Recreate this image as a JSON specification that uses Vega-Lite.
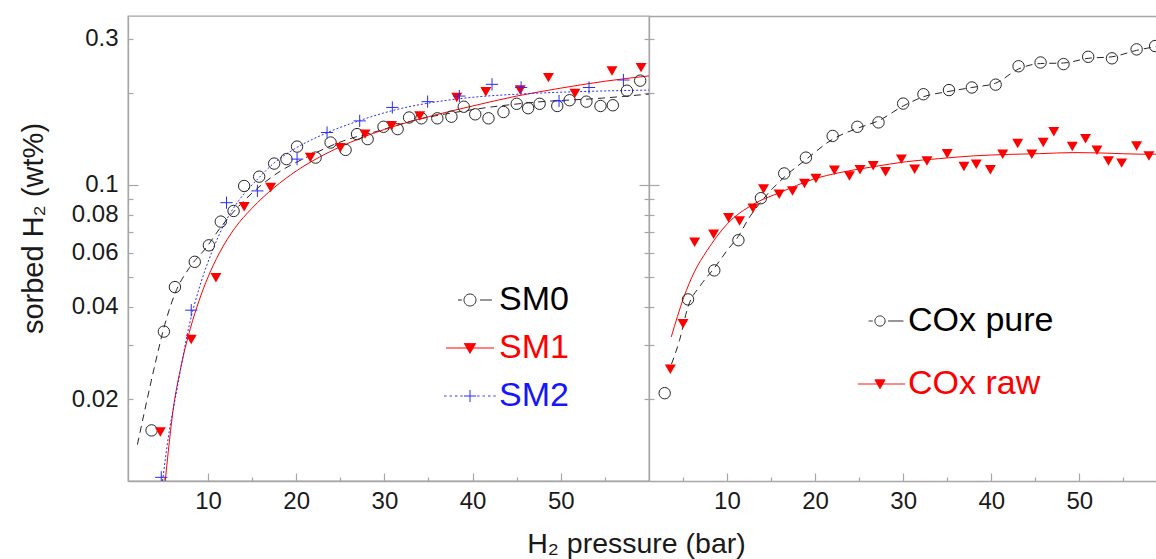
{
  "$schema": "https://vega.github.io/schema/vega-lite/v6.json",
  "background": "white",
  "padding": {"left": 18, "top": 15, "right": 0, "bottom": 0},
  "spacing": 0,
  "bounds": "flush",
  "config": {
    "font": "Liberation Sans",
    "view": {"stroke": "#a6a6a6", "strokeWidth": 1.3},
    "axis": {
      "grid": false,
      "domainColor": "#a6a6a6",
      "domainWidth": 1.3,
      "tickColor": "#a6a6a6",
      "tickWidth": 1.2,
      "labelColor": "#1a1a1a",
      "titleColor": "#1a1a1a",
      "labelFont": "Liberation Sans",
      "titleFont": "Liberation Sans",
      "titleFontWeight": "normal"
    },
    "legend": {"labelFont": "Liberation Sans"}
  },
  "datasets": {
    "pts_sm": [
      {"s": "SM0", "p": 3.6, "w": 0.0158}, {"s": "SM0", "p": 5.0, "w": 0.0332}, {"s": "SM0", "p": 6.25, "w": 0.0464},
      {"s": "SM0", "p": 8.5, "w": 0.0561}, {"s": "SM0", "p": 10.1, "w": 0.0635}, {"s": "SM0", "p": 11.45, "w": 0.0759},
      {"s": "SM0", "p": 12.9, "w": 0.0822}, {"s": "SM0", "p": 14.1, "w": 0.0992}, {"s": "SM0", "p": 15.8, "w": 0.1064},
      {"s": "SM0", "p": 17.5, "w": 0.1174}, {"s": "SM0", "p": 18.9, "w": 0.1214}, {"s": "SM0", "p": 20.1, "w": 0.1334},
      {"s": "SM0", "p": 22.2, "w": 0.1228}, {"s": "SM0", "p": 23.9, "w": 0.1375}, {"s": "SM0", "p": 25.6, "w": 0.1301},
      {"s": "SM0", "p": 26.9, "w": 0.1465}, {"s": "SM0", "p": 28.1, "w": 0.1411}, {"s": "SM0", "p": 29.9, "w": 0.1548},
      {"s": "SM0", "p": 31.5, "w": 0.1521}, {"s": "SM0", "p": 32.8, "w": 0.166}, {"s": "SM0", "p": 34.2, "w": 0.165},
      {"s": "SM0", "p": 36.0, "w": 0.165}, {"s": "SM0", "p": 37.6, "w": 0.167}, {"s": "SM0", "p": 39.0, "w": 0.18},
      {"s": "SM0", "p": 40.3, "w": 0.17}, {"s": "SM0", "p": 41.8, "w": 0.165}, {"s": "SM0", "p": 43.5, "w": 0.173},
      {"s": "SM0", "p": 45.0, "w": 0.184}, {"s": "SM0", "p": 46.3, "w": 0.178}, {"s": "SM0", "p": 47.6, "w": 0.184},
      {"s": "SM0", "p": 49.6, "w": 0.181}, {"s": "SM0", "p": 51.0, "w": 0.189}, {"s": "SM0", "p": 52.9, "w": 0.187},
      {"s": "SM0", "p": 54.5, "w": 0.181}, {"s": "SM0", "p": 55.9, "w": 0.182}, {"s": "SM0", "p": 57.5, "w": 0.203},
      {"s": "SM0", "p": 59.0, "w": 0.219},
      {"s": "SM1", "p": 4.6, "w": 0.0156}, {"s": "SM1", "p": 8.1, "w": 0.0313}, {"s": "SM1", "p": 10.9, "w": 0.0498},
      {"s": "SM1", "p": 14.1, "w": 0.0848}, {"s": "SM1", "p": 17.1, "w": 0.098}, {"s": "SM1", "p": 21.6, "w": 0.1228},
      {"s": "SM1", "p": 25.0, "w": 0.1323}, {"s": "SM1", "p": 27.8, "w": 0.1465}, {"s": "SM1", "p": 30.8, "w": 0.156},
      {"s": "SM1", "p": 34.0, "w": 0.168}, {"s": "SM1", "p": 38.2, "w": 0.1928}, {"s": "SM1", "p": 41.5, "w": 0.2016},
      {"s": "SM1", "p": 45.4, "w": 0.204}, {"s": "SM1", "p": 48.6, "w": 0.224}, {"s": "SM1", "p": 51.6, "w": 0.199},
      {"s": "SM1", "p": 55.8, "w": 0.2354}, {"s": "SM1", "p": 59.1, "w": 0.2415},
      {"s": "SM2", "p": 4.7, "w": 0.0111}, {"s": "SM2", "p": 8.1, "w": 0.039}, {"s": "SM2", "p": 12.1, "w": 0.0875},
      {"s": "SM2", "p": 15.6, "w": 0.0956}, {"s": "SM2", "p": 20.1, "w": 0.1214}, {"s": "SM2", "p": 23.5, "w": 0.1483},
      {"s": "SM2", "p": 27.2, "w": 0.1618}, {"s": "SM2", "p": 30.9, "w": 0.179}, {"s": "SM2", "p": 34.9, "w": 0.187},
      {"s": "SM2", "p": 38.5, "w": 0.195}, {"s": "SM2", "p": 42.2, "w": 0.213}, {"s": "SM2", "p": 45.5, "w": 0.208},
      {"s": "SM2", "p": 49.8, "w": 0.188}, {"s": "SM2", "p": 53.2, "w": 0.208}, {"s": "SM2", "p": 57.1, "w": 0.22}
    ],
    "fit_sm": [
      {"s": "SM0", "p": 2.0, "w": 0.0142}, {"s": "SM0", "p": 2.8, "w": 0.0182}, {"s": "SM0", "p": 4.0, "w": 0.026},
      {"s": "SM0", "p": 5.1, "w": 0.035}, {"s": "SM0", "p": 6.3, "w": 0.0445}, {"s": "SM0", "p": 7.9, "w": 0.0537},
      {"s": "SM0", "p": 9.8, "w": 0.0624}, {"s": "SM0", "p": 11.4, "w": 0.0725}, {"s": "SM0", "p": 13.7, "w": 0.0865},
      {"s": "SM0", "p": 17.6, "w": 0.108}, {"s": "SM0", "p": 21.5, "w": 0.1244}, {"s": "SM0", "p": 25.4, "w": 0.1394},
      {"s": "SM0", "p": 29.3, "w": 0.15}, {"s": "SM0", "p": 33.2, "w": 0.162}, {"s": "SM0", "p": 39.1, "w": 0.1745},
      {"s": "SM0", "p": 46.9, "w": 0.186}, {"s": "SM0", "p": 54.7, "w": 0.192}, {"s": "SM0", "p": 60.0, "w": 0.198},
      {"s": "SM1", "p": 5.15, "w": 0.0108}, {"s": "SM1", "p": 5.5, "w": 0.0135}, {"s": "SM1", "p": 6.0, "w": 0.018},
      {"s": "SM1", "p": 7.0, "w": 0.026}, {"s": "SM1", "p": 8.0, "w": 0.034}, {"s": "SM1", "p": 9.0, "w": 0.042},
      {"s": "SM1", "p": 10.0, "w": 0.05}, {"s": "SM1", "p": 11.3, "w": 0.06}, {"s": "SM1", "p": 13.0, "w": 0.072},
      {"s": "SM1", "p": 15.0, "w": 0.084}, {"s": "SM1", "p": 17.5, "w": 0.098}, {"s": "SM1", "p": 20.0, "w": 0.111},
      {"s": "SM1", "p": 23.5, "w": 0.127}, {"s": "SM1", "p": 27.0, "w": 0.141}, {"s": "SM1", "p": 31.0, "w": 0.155},
      {"s": "SM1", "p": 35.0, "w": 0.167}, {"s": "SM1", "p": 40.0, "w": 0.181}, {"s": "SM1", "p": 45.0, "w": 0.195},
      {"s": "SM1", "p": 50.0, "w": 0.207}, {"s": "SM1", "p": 55.0, "w": 0.218}, {"s": "SM1", "p": 60.0, "w": 0.227},
      {"s": "SM2", "p": 4.85, "w": 0.0108}, {"s": "SM2", "p": 5.5, "w": 0.015}, {"s": "SM2", "p": 6.3, "w": 0.0202},
      {"s": "SM2", "p": 7.0, "w": 0.026}, {"s": "SM2", "p": 7.9, "w": 0.0351}, {"s": "SM2", "p": 9.0, "w": 0.046},
      {"s": "SM2", "p": 10.6, "w": 0.062}, {"s": "SM2", "p": 12.0, "w": 0.076}, {"s": "SM2", "p": 13.5, "w": 0.089},
      {"s": "SM2", "p": 15.7, "w": 0.105}, {"s": "SM2", "p": 17.5, "w": 0.118}, {"s": "SM2", "p": 19.6, "w": 0.13},
      {"s": "SM2", "p": 23.5, "w": 0.148}, {"s": "SM2", "p": 27.4, "w": 0.163}, {"s": "SM2", "p": 31.3, "w": 0.176},
      {"s": "SM2", "p": 35.0, "w": 0.185}, {"s": "SM2", "p": 39.1, "w": 0.192}, {"s": "SM2", "p": 46.9, "w": 0.199},
      {"s": "SM2", "p": 53.0, "w": 0.202}, {"s": "SM2", "p": 60.0, "w": 0.204}
    ],
    "pts_cox": [
      {"s": "COx pure", "p": 2.93, "w": 0.0209}, {"s": "COx pure", "p": 5.58, "w": 0.0423}, {"s": "COx pure", "p": 8.56, "w": 0.0526},
      {"s": "COx pure", "p": 11.3, "w": 0.066}, {"s": "COx pure", "p": 13.85, "w": 0.0905}, {"s": "COx pure", "p": 16.5, "w": 0.109},
      {"s": "COx pure", "p": 18.96, "w": 0.1228}, {"s": "COx pure", "p": 22.0, "w": 0.1445}, {"s": "COx pure", "p": 24.8, "w": 0.1548},
      {"s": "COx pure", "p": 27.2, "w": 0.16}, {"s": "COx pure", "p": 30.0, "w": 0.1843}, {"s": "COx pure", "p": 32.3, "w": 0.1977},
      {"s": "COx pure", "p": 35.2, "w": 0.204}, {"s": "COx pure", "p": 37.8, "w": 0.208}, {"s": "COx pure", "p": 40.5, "w": 0.2125},
      {"s": "COx pure", "p": 43.1, "w": 0.244}, {"s": "COx pure", "p": 45.6, "w": 0.251}, {"s": "COx pure", "p": 48.2, "w": 0.248},
      {"s": "COx pure", "p": 51.0, "w": 0.262}, {"s": "COx pure", "p": 53.7, "w": 0.259}, {"s": "COx pure", "p": 56.5, "w": 0.277},
      {"s": "COx pure", "p": 58.6, "w": 0.284},
      {"s": "COx raw", "p": 3.57, "w": 0.025}, {"s": "COx raw", "p": 5.01, "w": 0.0352}, {"s": "COx raw", "p": 6.33, "w": 0.065},
      {"s": "COx raw", "p": 8.48, "w": 0.069}, {"s": "COx raw", "p": 10.18, "w": 0.0782}, {"s": "COx raw", "p": 11.43, "w": 0.0763},
      {"s": "COx raw", "p": 12.95, "w": 0.0839}, {"s": "COx raw", "p": 14.15, "w": 0.097}, {"s": "COx raw", "p": 15.93, "w": 0.0933},
      {"s": "COx raw", "p": 17.44, "w": 0.0956}, {"s": "COx raw", "p": 18.8, "w": 0.101}, {"s": "COx raw", "p": 20.1, "w": 0.105},
      {"s": "COx raw", "p": 22.2, "w": 0.1117}, {"s": "COx raw", "p": 23.9, "w": 0.107}, {"s": "COx raw", "p": 25.1, "w": 0.112},
      {"s": "COx raw", "p": 26.6, "w": 0.1154}, {"s": "COx raw", "p": 28.0, "w": 0.1105}, {"s": "COx raw", "p": 29.8, "w": 0.1214},
      {"s": "COx raw", "p": 31.3, "w": 0.1125}, {"s": "COx raw", "p": 32.7, "w": 0.1198}, {"s": "COx raw", "p": 35.0, "w": 0.1265},
      {"s": "COx raw", "p": 36.9, "w": 0.1148}, {"s": "COx raw", "p": 38.3, "w": 0.1168}, {"s": "COx raw", "p": 39.9, "w": 0.112},
      {"s": "COx raw", "p": 41.3, "w": 0.126}, {"s": "COx raw", "p": 43.0, "w": 0.1366}, {"s": "COx raw", "p": 44.6, "w": 0.126},
      {"s": "COx raw", "p": 45.9, "w": 0.1375}, {"s": "COx raw", "p": 47.1, "w": 0.1491}, {"s": "COx raw", "p": 49.2, "w": 0.1334},
      {"s": "COx raw", "p": 50.7, "w": 0.1416}, {"s": "COx raw", "p": 52.0, "w": 0.1298}, {"s": "COx raw", "p": 53.3, "w": 0.1198},
      {"s": "COx raw", "p": 54.8, "w": 0.1178}, {"s": "COx raw", "p": 56.5, "w": 0.134}, {"s": "COx raw", "p": 57.9, "w": 0.1243}
    ],
    "fit_cox": [
      {"s": "COx pure", "p": 3.7, "w": 0.026}, {"s": "COx pure", "p": 4.6, "w": 0.031}, {"s": "COx pure", "p": 5.58, "w": 0.04},
      {"s": "COx pure", "p": 7.0, "w": 0.047}, {"s": "COx pure", "p": 8.56, "w": 0.0535}, {"s": "COx pure", "p": 10.0, "w": 0.061},
      {"s": "COx pure", "p": 11.3, "w": 0.068}, {"s": "COx pure", "p": 12.5, "w": 0.078}, {"s": "COx pure", "p": 13.85, "w": 0.088},
      {"s": "COx pure", "p": 16.5, "w": 0.106}, {"s": "COx pure", "p": 18.96, "w": 0.121}, {"s": "COx pure", "p": 22.0, "w": 0.141},
      {"s": "COx pure", "p": 24.8, "w": 0.153}, {"s": "COx pure", "p": 27.2, "w": 0.162}, {"s": "COx pure", "p": 30.0, "w": 0.181},
      {"s": "COx pure", "p": 32.3, "w": 0.194}, {"s": "COx pure", "p": 35.2, "w": 0.202}, {"s": "COx pure", "p": 37.8, "w": 0.208},
      {"s": "COx pure", "p": 40.5, "w": 0.215}, {"s": "COx pure", "p": 43.1, "w": 0.239}, {"s": "COx pure", "p": 45.6, "w": 0.249},
      {"s": "COx pure", "p": 48.2, "w": 0.25}, {"s": "COx pure", "p": 51.0, "w": 0.259}, {"s": "COx pure", "p": 53.7, "w": 0.262},
      {"s": "COx pure", "p": 56.5, "w": 0.275}, {"s": "COx pure", "p": 58.7, "w": 0.283},
      {"s": "COx raw", "p": 3.68, "w": 0.0319}, {"s": "COx raw", "p": 5.08, "w": 0.0428}, {"s": "COx raw", "p": 6.3, "w": 0.052},
      {"s": "COx raw", "p": 7.73, "w": 0.061}, {"s": "COx raw", "p": 10.0, "w": 0.0744}, {"s": "COx raw", "p": 13.0, "w": 0.0865},
      {"s": "COx raw", "p": 16.0, "w": 0.0944}, {"s": "COx raw", "p": 19.8, "w": 0.1044}, {"s": "COx raw", "p": 22.8, "w": 0.1097},
      {"s": "COx raw", "p": 26.5, "w": 0.1145}, {"s": "COx raw", "p": 30.4, "w": 0.1191}, {"s": "COx raw", "p": 34.0, "w": 0.1218},
      {"s": "COx raw", "p": 38.0, "w": 0.1244}, {"s": "COx raw", "p": 42.0, "w": 0.1258}, {"s": "COx raw", "p": 45.5, "w": 0.1265},
      {"s": "COx raw", "p": 49.3, "w": 0.1275}, {"s": "COx raw", "p": 53.0, "w": 0.127}, {"s": "COx raw", "p": 56.9, "w": 0.126},
      {"s": "COx raw", "p": 58.7, "w": 0.126}
    ]
  },
  "resolve": {
    "scale": {"x": "independent", "y": "independent", "color": "independent"},
    "legend": {"color": "independent"}
  },
  "hconcat": [
    {
      "width": 521,
      "height": 465,
      "resolve": {"axis": {"y": "independent"}},
      "layer": [
        {
          "data": {"name": "fit_sm"},
          "transform": [{"filter": "datum.s === 'SM0'"}],
          "mark": {"type": "line", "strokeWidth": 1, "strokeDash": [7, 5], "clip": true, "interpolate": "monotone"},
          "encoding": {
            "x": {
              "field": "p", "type": "quantitative",
              "scale": {"domain": [0.93, 60], "nice": false, "zero": false},
              "axis": {
                "orient": "bottom",
                "values": [5, 10, 15, 20, 25, 30, 35, 40, 45, 50, 55],
                "labelExpr": "datum.value % 10 === 0 ? datum.label : ''",
                "tickSize": {"condition": {"test": "datum.value % 10 === 0", "value": -8}, "value": -4},
                "labelPadding": 16,
                "labelFontSize": 24,
                "labelBaseline": "top",
                "title": "H₂ pressure (bar)",
                "titleFontSize": 28.5,
                "titleX": 508,
                "titleY": 62,
                "titleAlign": "center",
                "titleBaseline": "middle"
              }
            },
            "y": {
              "field": "w", "type": "quantitative",
              "scale": {"type": "log", "domain": [0.0108, 0.356], "nice": false},
              "axis": {
                "orient": "left",
                "values": [0.02, 0.03, 0.04, 0.05, 0.06, 0.07, 0.08, 0.09, 0.1, 0.2, 0.3],
                "format": "~g",
                "labelExpr": "indexof([0.02, 0.04, 0.06, 0.08, 0.1, 0.3], datum.value) >= 0 ? datum.label : ''",
                "tickSize": {"condition": {"test": "datum.value === 0.1", "value": -10}, "value": -5},
                "labelPadding": {"condition": {"test": "datum.value === 0.1", "value": 20}, "value": 15},
                "labelFontSize": 24,
                "title": "sorbed H₂ (wt%)",
                "titleFontSize": 29,
                "titleX": -95,
                "titleY": 212,
                "titleAlign": "center",
                "titleBaseline": "middle"
              }
            },
            "color": {
              "field": "s", "type": "nominal",
              "scale": {"domain": ["SM0", "SM1", "SM2"], "range": ["#262626", "#ff0000", "#2a2aff"]},
              "legend": {
                "orient": "none", "legendX": 325, "legendY": 267, "title": null, "padding": 0,
                "labelFontSize": 34, "labelOffset": 12, "rowPadding": 14, "symbolSize": 144, "symbolStrokeWidth": 1, "symbolOpacity": 1,
                "symbolDash": [1, 0],
                "symbolType": {"expr": "datum.value === 'SM0' ? 'M-2,0L-1.35,0M1,0A1,1,0,1,1,-1,0A1,1,0,1,1,1,0M1.65,0L3.65,0' : datum.value === 'SM1' ? 'M-4,0L4,0M-0.95,-0.75L0.95,-0.75L0,0.9Z' : 'M-4.3,0L-3.9,0M-3.4,0L-3,0M-2.5,0L-2.1,0M-1.6,0L-1.2,0M-1,0L1,0M0,-1L0,1M1.2,0L1.6,0M2.1,0L2.5,0M3,0L3.4,0M3.9,0L4.3,0'"},
                "symbolFillColor": {"expr": "datum.value === 'SM1' ? '#ff0000' : 'transparent'"},
                "symbolStrokeColor": {"expr": "datum.value === 'SM0' ? '#262626' : datum.value === 'SM1' ? '#ff0000' : '#2a2aff'"},
                "labelColor": {"expr": "datum.value === 'SM0' ? '#000000' : datum.value === 'SM1' ? '#ff0000' : '#1515ff'"}
              }
            }
          }
        },
        {
          "data": {"name": "fit_sm"},
          "transform": [{"filter": "datum.s === 'SM1'"}],
          "mark": {"type": "line", "strokeWidth": 1, "color": "#ff0000", "clip": true, "interpolate": "monotone"},
          "encoding": {
            "x": {"field": "p", "type": "quantitative", "scale": {"domain": [0.93, 60], "nice": false, "zero": false}},
            "y": {
              "field": "w", "type": "quantitative",
              "scale": {"type": "log", "domain": [0.0108, 0.356], "nice": false},
              "axis": {
                "orient": "right",
                "values": [0.02, 0.03, 0.04, 0.05, 0.06, 0.07, 0.08, 0.09, 0.1, 0.2, 0.3],
                "labels": false,
                "domain": false,
                "tickSize": {"condition": {"test": "datum.value === 0.1", "value": -10}, "value": -5},
                "title": null
              }
            }
          }
        },
        {
          "data": {"name": "fit_sm"},
          "transform": [{"filter": "datum.s === 'SM2'"}],
          "mark": {"type": "line", "strokeWidth": 1, "color": "#2a2aff", "strokeDash": [2, 2], "clip": true, "interpolate": "monotone"},
          "encoding": {
            "x": {"field": "p", "type": "quantitative", "scale": {"domain": [0.93, 60], "nice": false, "zero": false}},
            "y": {"field": "w", "type": "quantitative", "scale": {"type": "log", "domain": [0.0108, 0.356], "nice": false}, "axis": null}
          }
        },
        {
          "data": {"name": "pts_sm"},
          "transform": [{"filter": "datum.s === 'SM0'"}],
          "mark": {"type": "point", "shape": "circle", "filled": false, "color": "#262626", "size": 130, "strokeWidth": 1, "opacity": 1, "clip": true},
          "encoding": {
            "x": {"field": "p", "type": "quantitative", "scale": {"domain": [0.93, 60], "nice": false, "zero": false}},
            "y": {"field": "w", "type": "quantitative", "scale": {"type": "log", "domain": [0.0108, 0.356], "nice": false}, "axis": null}
          }
        },
        {
          "data": {"name": "pts_sm"},
          "transform": [{"filter": "datum.s === 'SM1'"}],
          "mark": {"type": "point", "shape": "triangle-down", "filled": true, "color": "#ff0000", "size": 120, "opacity": 1, "clip": true},
          "encoding": {
            "x": {"field": "p", "type": "quantitative", "scale": {"domain": [0.93, 60], "nice": false, "zero": false}},
            "y": {"field": "w", "type": "quantitative", "scale": {"type": "log", "domain": [0.0108, 0.356], "nice": false}, "axis": null}
          }
        },
        {
          "data": {"name": "pts_sm"},
          "transform": [{"filter": "datum.s === 'SM2'"}],
          "mark": {"type": "point", "shape": "M-1,0L1,0M0,-1L0,1", "filled": false, "color": "#2a2aff", "size": 150, "strokeWidth": 1, "opacity": 1, "clip": true},
          "encoding": {
            "x": {"field": "p", "type": "quantitative", "scale": {"domain": [0.93, 60], "nice": false, "zero": false}},
            "y": {"field": "w", "type": "quantitative", "scale": {"type": "log", "domain": [0.0108, 0.356], "nice": false}, "axis": null}
          }
        }
      ]
    },
    {
      "width": 507,
      "height": 465,
      "view": {"stroke": null},
      "resolve": {"axis": {"x": "independent"}},
      "layer": [
        {
          "data": {"name": "fit_cox"},
          "transform": [{"filter": "datum.s === 'COx pure'"}],
          "mark": {"type": "line", "strokeWidth": 1, "strokeDash": [7, 5], "clip": true, "interpolate": "monotone"},
          "encoding": {
            "x": {
              "field": "p", "type": "quantitative",
              "scale": {"domain": [1.15, 58.7], "nice": false, "zero": false},
              "axis": {
                "orient": "bottom",
                "values": [5, 10, 15, 20, 25, 30, 35, 40, 45, 50, 55],
                "labelExpr": "datum.value % 10 === 0 ? datum.label : ''",
                "tickSize": {"condition": {"test": "datum.value % 10 === 0", "value": -8}, "value": -4},
                "labelPadding": 16,
                "labelFontSize": 24,
                "labelBaseline": "top",
                "title": null
              }
            },
            "y": {
              "field": "w", "type": "quantitative",
              "scale": {"type": "log", "domain": [0.0108, 0.356], "nice": false},
              "axis": {
                "orient": "left",
                "values": [0.02, 0.03, 0.04, 0.05, 0.06, 0.07, 0.08, 0.09, 0.1, 0.2, 0.3],
                "labels": false,
                "tickSize": {"condition": {"test": "datum.value === 0.1", "value": -10}, "value": -5},
                "title": null
              }
            },
            "color": {
              "field": "s", "type": "nominal",
              "scale": {"domain": ["COx pure", "COx raw"], "range": ["#262626", "#ff0000"]},
              "legend": {
                "orient": "none", "legendX": 214, "legendY": 288, "title": null, "padding": 0,
                "labelFontSize": 34, "labelOffset": 11, "rowPadding": 29, "symbolSize": 144, "symbolStrokeWidth": 1, "symbolOpacity": 1,
                "symbolDash": [1, 0],
                "symbolType": {"expr": "datum.value === 'COx pure' ? 'M-1.9,0L-1.2,0M0.85,0A0.85,0.85,0,1,1,-0.85,0A0.85,0.85,0,1,1,0.85,0M1.35,0L3.9,0' : 'M-3.7,0L4.2,0M-0.85,-0.7L0.85,-0.7L0,0.8Z'"},
                "symbolFillColor": {"expr": "datum.value === 'COx raw' ? '#ff0000' : 'transparent'"},
                "symbolStrokeColor": {"expr": "datum.value === 'COx pure' ? '#262626' : '#ff0000'"},
                "labelColor": {"expr": "datum.value === 'COx pure' ? '#000000' : '#ff0000'"}
              }
            }
          }
        },
        {
          "data": {"name": "fit_cox"},
          "transform": [{"filter": "datum.s === 'COx raw'"}],
          "mark": {"type": "line", "strokeWidth": 1, "color": "#ff0000", "clip": true, "interpolate": "monotone"},
          "encoding": {
            "x": {
              "field": "p", "type": "quantitative",
              "scale": {"domain": [1.15, 58.7], "nice": false, "zero": false},
              "axis": {"orient": "top", "ticks": false, "labels": false, "domain": true, "title": null}
            },
            "y": {"field": "w", "type": "quantitative", "scale": {"type": "log", "domain": [0.0108, 0.356], "nice": false}}
          }
        },
        {
          "data": {"name": "pts_cox"},
          "transform": [{"filter": "datum.s === 'COx pure'"}],
          "mark": {"type": "point", "shape": "circle", "filled": false, "color": "#262626", "size": 130, "strokeWidth": 1, "opacity": 1, "clip": true},
          "encoding": {
            "x": {"field": "p", "type": "quantitative", "scale": {"domain": [1.15, 58.7], "nice": false, "zero": false}, "axis": null},
            "y": {"field": "w", "type": "quantitative", "scale": {"type": "log", "domain": [0.0108, 0.356], "nice": false}}
          }
        },
        {
          "data": {"name": "pts_cox"},
          "transform": [{"filter": "datum.s === 'COx raw'"}],
          "mark": {"type": "point", "shape": "triangle-down", "filled": true, "color": "#ff0000", "size": 120, "opacity": 1, "clip": true},
          "encoding": {
            "x": {"field": "p", "type": "quantitative", "scale": {"domain": [1.15, 58.7], "nice": false, "zero": false}, "axis": null},
            "y": {"field": "w", "type": "quantitative", "scale": {"type": "log", "domain": [0.0108, 0.356], "nice": false}}
          }
        }
      ]
    }
  ]
}
